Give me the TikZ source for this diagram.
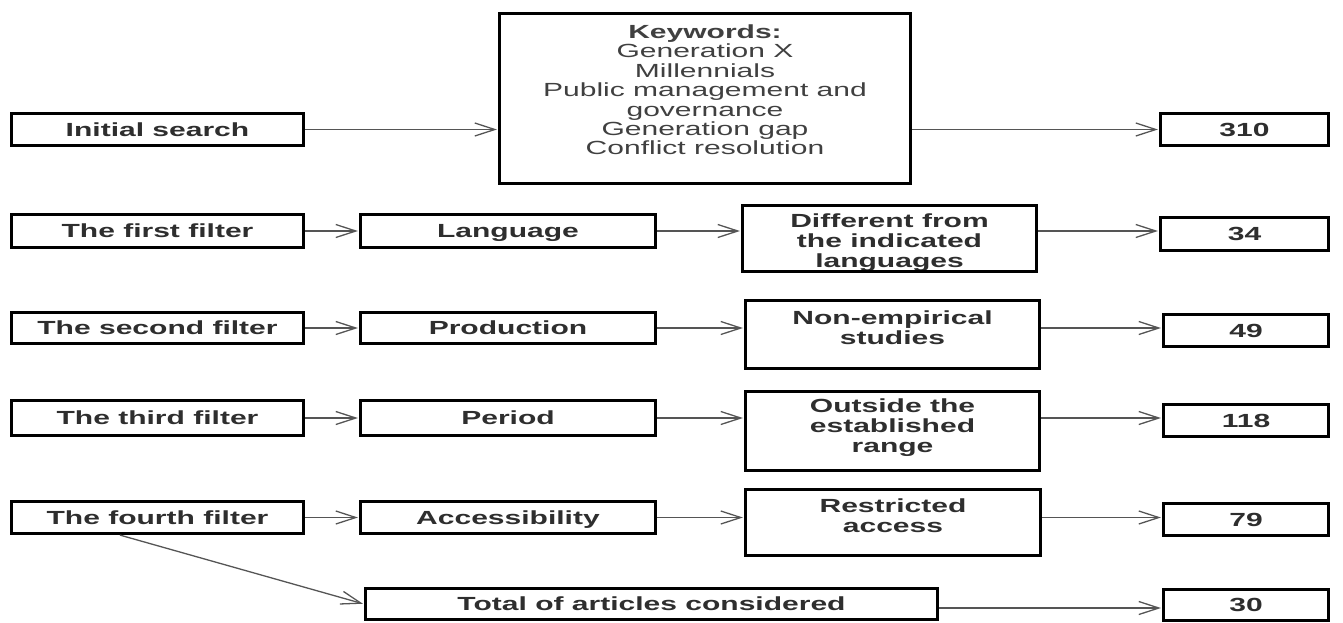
\documentclass[tikz,border=0pt]{standalone}
\usepackage{fontspec}
\newfontfamily\df{Liberation Sans}[FakeStretch=1.58]
\usetikzlibrary{arrows.meta}
\definecolor{txt}{HTML}{2E2E2E}
\definecolor{txtl}{HTML}{404040}
\definecolor{ln}{HTML}{555555}
\begin{document}
\begin{tikzpicture}[x=1pt,y=-1pt,
  box/.style={draw=black, line width=3.2pt, inner sep=0pt, rectangle,
    text height=14pt, text depth=1pt,
    font=\df\fontsize{19}{20}\selectfont\bfseries, text=txt},
  btext/.style={inner sep=0pt, align=center,
    font=\df\fontsize{19}{20}\selectfont\bfseries, text=txt},
  ktext/.style={inner sep=0pt, align=center,
    font=\df\fontsize{19}{19.4}\selectfont, text=txtl},
  conn/.style={draw=ln, line width=1.3pt, shorten >=1pt,
    -{Straight Barb[length=20pt,width=13pt,line width=1.3pt]}}]
\useasboundingbox (0,0) rectangle (1343,622);

% multi-line texts (drawn first so that the borders lie over them)
\node[ktext] (kwt) at (705,90) {{\bfseries Keywords:}\\Generation X\\Millennials\\Public management and\\governance\\Generation gap\\Conflict resolution};
\node[btext] (difft) at (889.5,243) {Different from\\the indicated\\languages};
\node[btext] (nonempt) at (892.5,328) {Non-empirical\\studies};
\node[btext] (outsidet) at (892.5,428) {Outside the\\established\\range};
\node[btext] (restrt) at (893,515.5) {Restricted\\access};

% row 0
\node[box, minimum width=292pt, minimum height=32pt] (init) at (157.5,129.5) {Initial search};
\node[box, minimum width=411pt, minimum height=170pt] (kw) at (705,98.5) {};
\node[box, minimum width=168pt, minimum height=32pt] (n310) at (1244.5,129.5) {310};
% row 1
\node[box, minimum width=292pt, minimum height=33pt] (f1) at (157.5,231) {The first filter};
\node[box, minimum width=295pt, minimum height=33pt] (lang) at (508,231) {Language};
\node[box, minimum width=294pt, minimum height=66pt] (diff) at (889.5,238.5) {};
\node[box, minimum width=168pt, minimum height=33pt] (n34) at (1244.5,234) {34};
% row 2
\node[box, minimum width=292pt, minimum height=31pt] (f2) at (157.5,328) {The second filter};
\node[box, minimum width=295pt, minimum height=31pt] (prod) at (508,328) {Production};
\node[box, minimum width=294pt, minimum height=68pt] (nonemp) at (892.5,334.5) {};
\node[box, minimum width=165pt, minimum height=32pt] (n49) at (1246,330.5) {49};
% row 3
\node[box, minimum width=292pt, minimum height=35pt] (f3) at (157.5,418) {The third filter};
\node[box, minimum width=295pt, minimum height=35pt] (period) at (508,418) {Period};
\node[box, minimum width=294pt, minimum height=79pt] (outside) at (892.5,431) {};
\node[box, minimum width=165pt, minimum height=32pt] (n118) at (1246,420.5) {118};
% row 4
\node[box, minimum width=292pt, minimum height=32pt] (f4) at (157.5,517.5) {The fourth filter};
\node[box, minimum width=295pt, minimum height=32pt] (access) at (508,517.5) {Accessibility};
\node[box, minimum width=295pt, minimum height=66pt] (restr) at (893,522.5) {};
\node[box, minimum width=165pt, minimum height=32pt] (n79) at (1246,519.5) {79};
% row 5
\node[box, minimum width=572pt, minimum height=31pt] (total) at (651.5,604) {Total of articles considered};
\node[box, minimum width=165pt, minimum height=31pt] (n30) at (1246,605) {30};

% connectors
\draw[conn] (init.east) -- (init.east -| kw.west);
\draw[conn] (kw.east |- init.east) -- (n310.west);

\draw[conn] (f1.east) -- (lang.west);
\draw[conn] (lang.east) -- (lang.east -| diff.west);
\draw[conn] (diff.east |- lang.east) -- (lang.east -| n34.west);

\draw[conn] (f2.east) -- (prod.west);
\draw[conn] (prod.east) -- (prod.east -| nonemp.west);
\draw[conn] (nonemp.east |- prod.east) -- (prod.east -| n49.west);

\draw[conn] (f3.east) -- (period.west);
\draw[conn] (period.east) -- (period.east -| outside.west);
\draw[conn] (outside.east |- period.east) -- (period.east -| n118.west);

\draw[conn] (f4.east) -- (access.west);
\draw[conn] (access.east) -- (access.east -| restr.west);
\draw[conn] (restr.east |- access.east) -- (access.east -| n79.west);

\draw[conn] ([xshift=-37.5pt]f4.south) -- (total.west);
\draw[conn] ([yshift=-4pt]total.east) -- ([yshift=-4pt]total.east -| n30.west);
\end{tikzpicture}
\end{document}
